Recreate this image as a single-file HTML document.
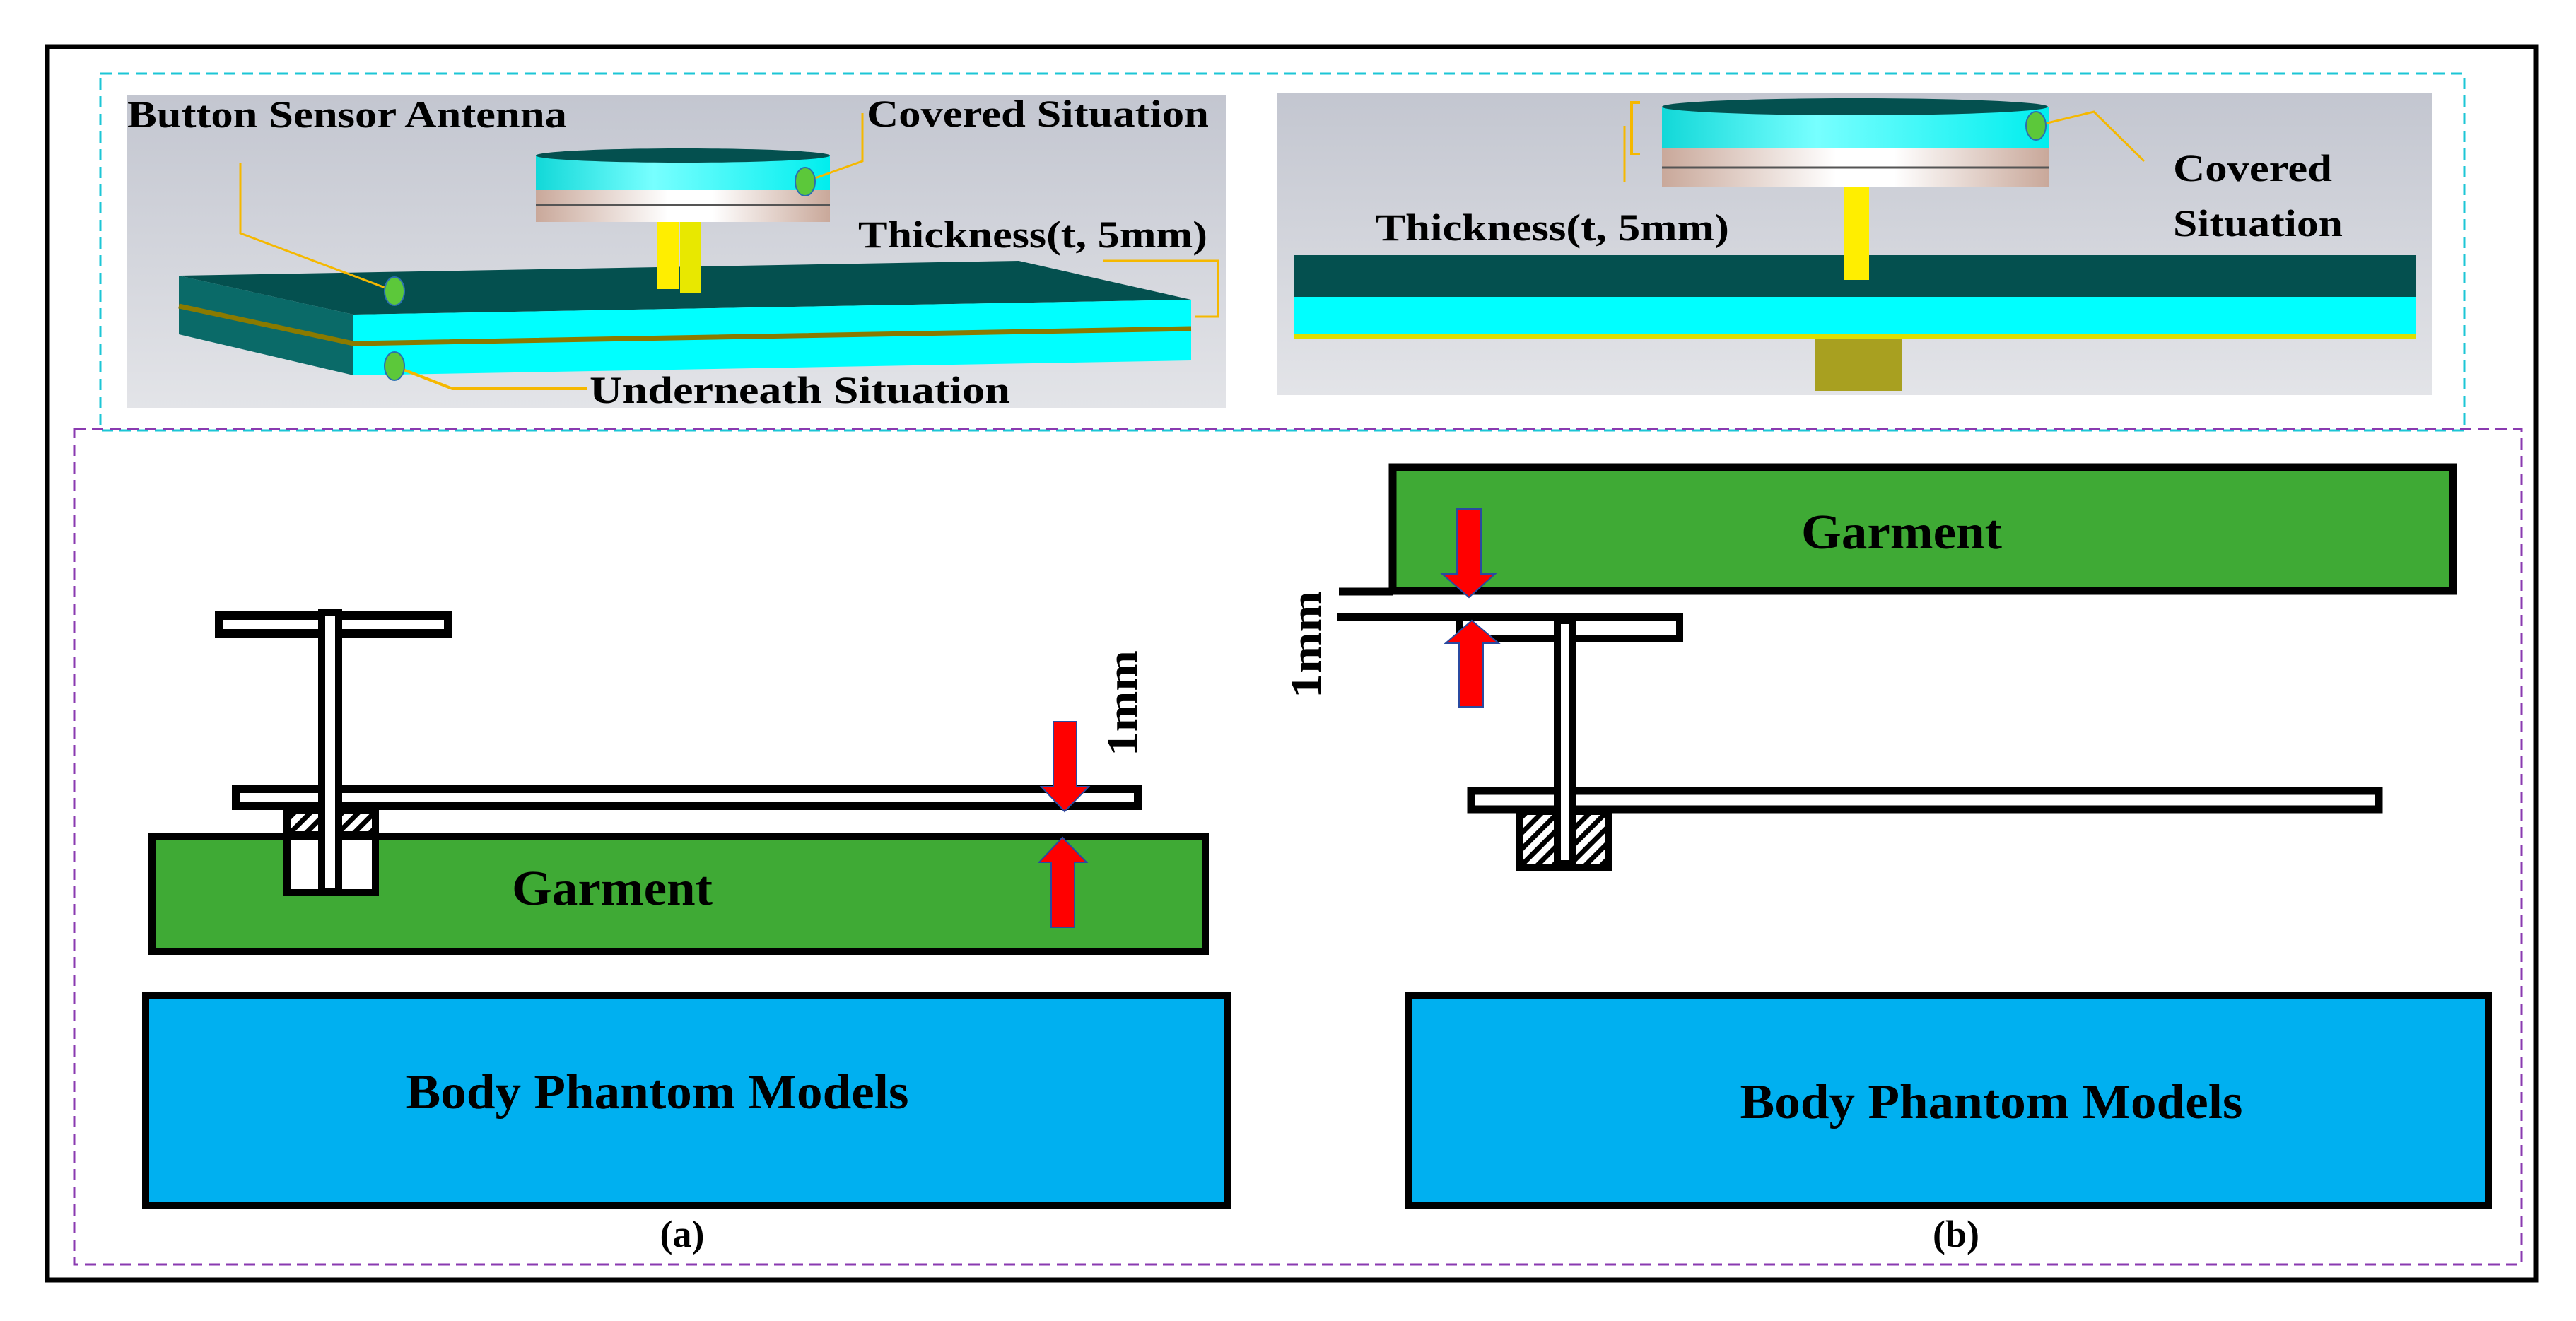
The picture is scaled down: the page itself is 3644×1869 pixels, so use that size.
<!DOCTYPE html>
<html><head><meta charset="utf-8"><style>
html,body{margin:0;padding:0;background:#fff}
svg{display:block}
text{font-family:"Liberation Serif",serif;font-weight:bold;fill:#000}
</style></head><body>
<svg width="3644" height="1869" viewBox="0 0 3644 1869" xmlns="http://www.w3.org/2000/svg">
<defs>
<pattern id="hatch" width="16" height="16" patternUnits="userSpaceOnUse" patternTransform="rotate(45)">
<rect width="16" height="16" fill="#fff"/><rect width="7" height="16" fill="#000"/>
</pattern>
<linearGradient id="cy" x1="0" x2="1"><stop offset="0" stop-color="#12d8d8"/><stop offset="0.4" stop-color="#7ff"/><stop offset="1" stop-color="#0ee"/></linearGradient>
<linearGradient id="pk" x1="0" x2="1"><stop offset="0" stop-color="#c9a89a"/><stop offset="0.45" stop-color="#fff"/><stop offset="0.6" stop-color="#fff"/><stop offset="1" stop-color="#c9a89a"/></linearGradient>
<linearGradient id="bg" x1="0" y1="0" x2="0" y2="1"><stop offset="0" stop-color="#c3c6d0"/><stop offset="1" stop-color="#e3e4e8"/></linearGradient>
</defs>

<!-- outer frame -->
<rect x="67" y="66" width="3520" height="1745" fill="none" stroke="#000" stroke-width="7"/>
<!-- cyan dashed -->
<rect x="142" y="104" width="3344" height="505" fill="none" stroke="#1cc6d6" stroke-width="3" stroke-dasharray="16,9"/>
<!-- purple dashed -->
<rect x="105" y="607" width="3462" height="1182" fill="none" stroke="#8a3ab0" stroke-width="3" stroke-dasharray="16,9"/>

<!-- Left 3D image -->
<rect x="180" y="134" width="1554" height="443" fill="url(#bg)"/>
<polygon points="253,390 1441,369 1685,424 500,445" fill="#04504f"/>
<polygon points="253,390 500,445 500,531 253,473" fill="#0a6a68"/>
<polygon points="500,445 1685,424 1685,510 500,531" fill="#00ffff"/>
<polyline points="253,433 500,486 1685,465" fill="none" stroke="#8a7a00" stroke-width="7"/>
<rect x="930" y="314" width="30" height="95" fill="#ffee00"/>
<rect x="962" y="314" width="30" height="100" fill="#e8e800"/>
<rect x="758" y="269" width="416" height="45" fill="url(#pk)"/>
<line x1="758" y1="290" x2="1174" y2="290" stroke="#555" stroke-width="3"/>
<rect x="758" y="220" width="416" height="49" fill="url(#cy)"/>
<ellipse cx="966" cy="220" rx="208" ry="10" fill="#04504f"/>
<polyline points="340,230 340,330 558,412" fill="none" stroke="#f5b800" stroke-width="3"/>
<polyline points="1139,257 1220,228 1220,160" fill="none" stroke="#f5b800" stroke-width="3"/>
<polyline points="558,518 640,550 830,550" fill="none" stroke="#f5b800" stroke-width="4"/>
<polyline points="1560,369 1723,369 1723,448 1690,448" fill="none" stroke="#f5b800" stroke-width="3"/>
<ellipse cx="558" cy="412" rx="14" ry="20" fill="#5cc83a" stroke="#2a6fb0" stroke-width="2"/>
<ellipse cx="1139" cy="257" rx="14" ry="20" fill="#5cc83a" stroke="#2a6fb0" stroke-width="2"/>
<ellipse cx="558" cy="518" rx="14" ry="20" fill="#5cc83a" stroke="#2a6fb0" stroke-width="2"/>
<text x="180" y="180" font-size="54" textLength="622" lengthAdjust="spacingAndGlyphs">Button Sensor Antenna</text>
<text x="1226" y="179" font-size="54" textLength="484" lengthAdjust="spacingAndGlyphs">Covered Situation</text>
<text x="1214" y="350" font-size="54" textLength="494" lengthAdjust="spacingAndGlyphs">Thickness(t, 5mm)</text>
<text x="834" y="570" font-size="54" textLength="595" lengthAdjust="spacingAndGlyphs">Underneath  Situation</text>

<!-- Right 3D image -->
<rect x="1806" y="131" width="1635" height="428" fill="url(#bg)"/>
<rect x="1830" y="361" width="1588" height="59" fill="#04504f"/>
<rect x="1830" y="420" width="1588" height="53" fill="#00ffff"/>
<rect x="1830" y="473" width="1588" height="7" fill="#dede00"/>
<rect x="2567" y="480" width="123" height="73" fill="#a8a020"/>
<rect x="2609" y="265" width="35" height="131" fill="#ffee00"/>
<rect x="2351" y="210" width="547" height="55" fill="url(#pk)"/>
<line x1="2351" y1="237" x2="2898" y2="237" stroke="#555" stroke-width="3"/>
<rect x="2351" y="151" width="547" height="59" fill="url(#cy)"/>
<ellipse cx="2624" cy="151" rx="273" ry="12" fill="#04504f"/>
<polyline points="2320,145 2308,145 2308,218 2320,218" fill="none" stroke="#f5b800" stroke-width="4"/>
<line x1="2298" y1="178" x2="2298" y2="258" stroke="#f5b800" stroke-width="3"/>
<polyline points="2880,178 2962,158 3033,228" fill="none" stroke="#f5b800" stroke-width="3"/>
<ellipse cx="2880" cy="178" rx="14" ry="20" fill="#5cc83a" stroke="#2a6fb0" stroke-width="2"/>
<text x="3074" y="256" font-size="54" textLength="225" lengthAdjust="spacingAndGlyphs">Covered</text>
<text x="3074" y="334" font-size="54" textLength="240" lengthAdjust="spacingAndGlyphs">Situation</text>
<text x="1946" y="340" font-size="54" textLength="500" lengthAdjust="spacingAndGlyphs">Thickness(t, 5mm)</text>

<!-- (a) lower left -->
<rect x="215" y="1183" width="1490" height="163" fill="#3faa35" stroke="#000" stroke-width="10"/>
<rect x="206" y="1409" width="1531" height="297" fill="#00b0f0" stroke="#000" stroke-width="10"/>
<!-- T top plate -->
<rect x="310" y="871" width="324" height="25" fill="#fff" stroke="#000" stroke-width="12"/>
<!-- board -->
<rect x="334" y="1116" width="1276" height="24" fill="#fff" stroke="#000" stroke-width="12"/>
<!-- block -->
<rect x="406" y="1146" width="125" height="35" fill="url(#hatch)" stroke="#000" stroke-width="10"/>
<rect x="406" y="1183" width="125" height="80" fill="#fff" stroke="#000" stroke-width="10"/>
<!-- stem -->
<rect x="455" y="866" width="24" height="396" fill="#fff" stroke="#000" stroke-width="10"/>
<!-- arrows a -->
<polygon points="1490,1021 1523,1021 1523,1113 1540,1113 1506,1148 1473,1113 1490,1113" fill="#ff0000" stroke="#2a4aa0" stroke-width="2"/>
<polygon points="1487,1312 1520,1312 1520,1220 1537,1220 1503,1185 1470,1220 1487,1220" fill="#ff0000" stroke="#2a4aa0" stroke-width="2"/>
<text transform="translate(1608,1070) rotate(-90)" font-size="60" textLength="150" lengthAdjust="spacingAndGlyphs">1mm</text>
<text x="866" y="1280" font-size="70" text-anchor="middle" textLength="284" lengthAdjust="spacingAndGlyphs">Garment</text>
<text x="930" y="1568" font-size="70" text-anchor="middle" textLength="711" lengthAdjust="spacingAndGlyphs">Body Phantom Models</text>
<text x="965" y="1764" font-size="54" text-anchor="middle">(a)</text>

<!-- (b) lower right -->
<rect x="1970" y="661" width="1500" height="175" fill="#3faa35" stroke="#000" stroke-width="11"/>
<rect x="1993" y="1409" width="1527" height="297" fill="#00b0f0" stroke="#000" stroke-width="10"/>
<line x1="1894" y1="837" x2="1970" y2="837" stroke="#000" stroke-width="11"/>
<rect x="2064" y="873" width="312" height="31" fill="#fff" stroke="#000" stroke-width="10"/>
<line x1="1891" y1="873" x2="2376" y2="873" stroke="#000" stroke-width="11"/>
<rect x="2081" y="1119" width="1284" height="26" fill="#fff" stroke="#000" stroke-width="11"/>
<rect x="2150" y="1148" width="125" height="80" fill="url(#hatch)" stroke="#000" stroke-width="10"/>
<rect x="2203" y="878" width="22" height="344" fill="#fff" stroke="#000" stroke-width="10"/>
<polygon points="2061,720 2095,720 2095,812 2115,812 2078,845 2040,812 2061,812" fill="#ff0000" stroke="#2a4aa0" stroke-width="2"/>
<polygon points="2064,1000 2098,1000 2098,910 2120,910 2082,878 2045,910 2064,910" fill="#ff0000" stroke="#2a4aa0" stroke-width="2"/>
<text transform="translate(1868,988) rotate(-90)" font-size="60" textLength="152" lengthAdjust="spacingAndGlyphs">1mm</text>
<text x="2690" y="776" font-size="70" text-anchor="middle" textLength="284" lengthAdjust="spacingAndGlyphs">Garment</text>
<text x="2817" y="1582" font-size="70" text-anchor="middle" textLength="711" lengthAdjust="spacingAndGlyphs">Body Phantom Models</text>
<text x="2767" y="1764" font-size="54" text-anchor="middle">(b)</text>
</svg>
</body></html>
